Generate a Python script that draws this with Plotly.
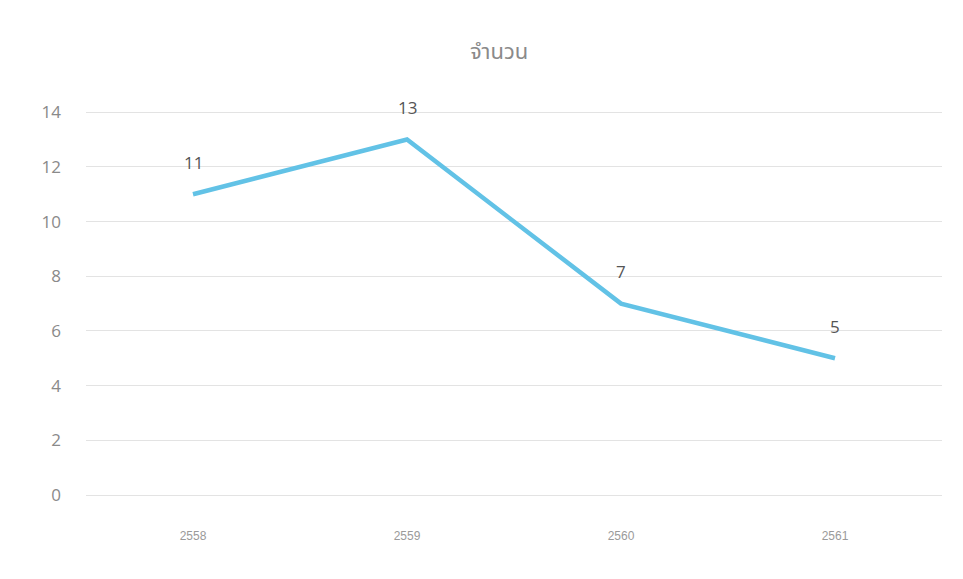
import plotly.graph_objects as go

years = ["2558", "2559", "2560", "2561"]
values = [11, 13, 7, 5]
title_text = "จำนวน"

fig = go.Figure()
fig.add_trace(go.Scatter(
    x=years, y=values, mode="lines",
    line=dict(color="#62C2E6", width=4.5),
    hoverinfo="skip", showlegend=False,
))
for i, yv in enumerate(values):
    fig.add_annotation(x=i, y=yv, xref="x", yref="y", text=str(yv), showarrow=False,
                       yshift=32, font=dict(size=17, color="#555555", family="Open Sans, sans-serif"))

fig.update_layout(
    width=963, height=579,
    margin=dict(l=78, r=29, t=102, b=92),
    paper_bgcolor="white", plot_bgcolor="white",
    title=dict(text=title_text, x=0.51, xanchor="center", y=0.925, yanchor="middle",
               font=dict(size=22, color="#8a8a8a", family="Noto Sans Thai, Noto Sans, DejaVu Sans, sans-serif")),
    xaxis=dict(type="category", range=[-0.5, 3.5], showgrid=False, zeroline=False,
               showline=False, ticks="", ticklabelstandoff=32,
               tickfont=dict(size=12, color="#9a9a9a", family="Arial, Liberation Sans, sans-serif")),
    yaxis=dict(range=[0, 14.08], dtick=2, showgrid=True, gridcolor="#e3e3e3", gridwidth=1,
               zeroline=True, zerolinecolor="#e3e3e3", zerolinewidth=1,
               showline=False, ticks="", ticklabelstandoff=24,
               tickfont=dict(size=17, color="#8a8a8a", family="Open Sans, sans-serif")),
)
fig.write_html("out.html")
